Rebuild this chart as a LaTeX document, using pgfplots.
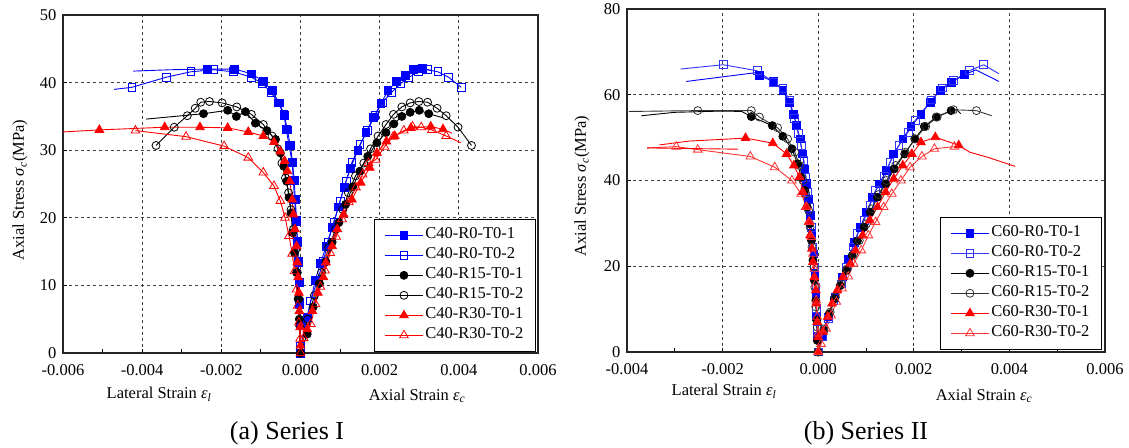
\documentclass[border=0pt]{standalone}
\usepackage{fontspec}
\setmainfont{Liberation Serif}
\usepackage{pgfplots}
\pgfplotsset{compat=1.18}
\pgfplotsset{
 mystyle/.style={
  scale only axis,
  axis line style={line width=1.3pt, black!85},
  grid=major,
  major grid style={line width=0.9pt, black!75, dash pattern=on 3pt off 3pt},
  tick align=inside,
  xtick pos=bottom, ytick pos=left,
  minor x tick num=1,
  major tick length=4pt, minor tick length=4pt,
  every tick/.style={line width=1pt, black},
  scaled x ticks=false, scaled y ticks=false,
  xticklabel style={font=\fontsize{16.5}{19}\selectfont, yshift=-8pt},
  yticklabel style={font=\fontsize{16.5}{19}\selectfont, xshift=-3pt},
  legend cell align=left,
  legend style={draw=black, line width=1.3pt, fill=white, font=\fontsize{16.5}{19}\selectfont,
    inner xsep=10pt, inner ysep=6pt, row sep=0pt,
    nodes={inner xsep=2pt, inner ysep=2.5pt, text height=11pt, text depth=4pt}},
  legend image code/.code={\draw[mark repeat=2,mark phase=2,##1] plot coordinates {(0pt,0pt) (19pt,0pt) (38pt,0pt)};},
 },
 fsq/.style={#1, line width=0.9pt, mark=square*, mark size=3.9pt, mark options={solid, fill=#1, line width=0.8pt}},
 osq/.style={#1, line width=0.9pt, mark=square, mark size=3.9pt, mark options={solid, fill=white, line width=0.8pt}},
 fci/.style={#1, line width=0.9pt, mark=*, mark size=4pt, mark options={solid, fill=#1, line width=0.8pt}},
 oci/.style={#1, line width=0.9pt, mark=o, mark size=4pt, mark options={solid, fill=white, line width=0.8pt}},
 ftr/.style={#1, line width=0.9pt, mark=triangle*, mark size=5pt, mark options={solid, fill=#1, line width=0.8pt}},
 otr/.style={#1, line width=0.9pt, mark=triangle, mark size=5pt, mark options={solid, fill=white, line width=0.8pt}},
 tl/.style={#1, line width=0.9pt, no marks, forget plot},
}
\begin{document}
\begin{tikzpicture}[x=1pt,y=1pt]
\useasboundingbox (0,0) rectangle (1129,447);
% ---------------- Series I ----------------
\begin{axis}[mystyle, at={(63pt,94pt)}, anchor=south west, width=475pt, height=338pt,
  xmin=-0.006, xmax=0.006, ymin=0, ymax=50,
  xtick={-0.006,-0.004,-0.002,0,0.002,0.004,0.006},
  xticklabels={-0.006,-0.004,-0.002,0.000,0.002,0.004,0.006},
  ytick={0,10,20,30,40,50}, yticklabels={0,10,20,30,40,50},
  legend style={at={(0.996,0.003)}, anchor=south east}]
% C40-R0-T0-1
\addplot[fsq=blue] coordinates {(-0.00235,42.0) (-0.00166,42.0) (-0.00124,41.3) (-0.00094,40.2) (-0.00072,38.8) (-0.00054,37.0) (-0.00041,35.2) (-0.00033,33.0) (-0.00026,30.7) (-0.0002,28.2) (-0.00016,25.5) (-0.00013,22.7) (-0.0001,19.6) (-0.00008,16.5) (-0.00006,13.5) (-0.00004,10.4) (-0.00002,7.2) (-0.00001,4) (0,0)
 (0.00017,5.3) (0.00037,10.7) (0.0005,13.2) (0.00065,15.8) (0.0008,18.6) (0.00096,21.6) (0.0011,24.5) (0.00126,27.3) (0.00145,30.0) (0.00165,32.6) (0.00185,34.9) (0.00203,36.9) (0.00221,38.8) (0.00243,40.2) (0.00266,41.1) (0.00286,41.9) (0.00308,42.1)};
\addplot[tl=blue] coordinates {(-0.00422,41.7) (-0.0033,41.9) (-0.00235,42.0)};
\addplot[tl=blue] coordinates {(0.00308,42.1) (0.0033,41.8)};
% C40-R0-T0-2
\addplot[osq=blue] coordinates {(-0.00426,39.3) (-0.00339,40.8) (-0.00277,41.6) (-0.0022,41.9) (-0.00169,41.6) (-0.00125,40.8) (-0.00096,39.9) (-0.00074,38.5) (-0.00056,37.0) (-0.00042,35.3) (-0.00036,33.1) (-0.00029,30.7) (-0.00021,28.2) (-0.00018,25.5) (-0.00015,22.7) (-0.0001,19.4) (-0.00008,16.4) (-0.00005,13.4) (-0.00003,10.4) (-0.00002,7.5) (-0.00001,4.5) (0,1)
 (0.00026,7.7) (0.00058,13.6) (0.00069,16.4) (0.00085,19.4) (0.001,22.5) (0.00115,25.4) (0.0013,28.2) (0.0015,30.8) (0.00169,32.9) (0.00188,35.1) (0.00206,37.0) (0.00229,38.5) (0.00252,39.8) (0.00274,40.8) (0.00297,41.6) (0.0032,41.9) (0.00347,41.6) (0.00374,40.8) (0.00406,39.3)};
\addplot[tl=blue] coordinates {(-0.00471,39.0) (-0.00426,39.3)};
% C40-R15-T0-1
\addplot[fci=black] coordinates {(-0.00245,35.4) (-0.00184,35.9) (-0.00162,35.0) (-0.00139,35.7) (-0.00114,34.0) (-0.00085,32.9) (-0.00063,31.6) (-0.00051,29.6) (-0.00042,27.6) (-0.00035,25.4) (-0.00029,23.0) (-0.00024,20.7) (-0.0002,17.8) (-0.00015,14.8) (-0.0001,11.9) (-0.00006,8.0) (-0.00003,5.0) (0,0)
 (0.00017,2.8) (0.00032,6.8) (0.00048,10.3) (0.00064,13.5) (0.0008,16.4) (0.00097,19.3) (0.00114,22.0) (0.00132,24.6) (0.0015,26.9) (0.0017,29.1) (0.00193,31.1) (0.00216,32.6) (0.00236,33.9) (0.00256,35.0) (0.00277,35.6) (0.003,35.9) (0.00324,35.4)};
\addplot[tl=black] coordinates {(-0.0039,34.6) (-0.00245,35.4)};
\addplot[tl=black] coordinates {(0.00324,35.4) (0.0036,34.8)};
% C40-R15-T0-2
\addplot[oci=black] coordinates {(-0.00365,30.7) (-0.00319,33.4) (-0.00286,35.1) (-0.00266,36.2) (-0.00252,37.1) (-0.0023,37.2) (-0.00198,37.0) (-0.00161,36.4) (-0.00124,35.3) (-0.00094,33.8) (-0.00072,32.1) (-0.00057,30.2) (-0.00047,28.1) (-0.00038,25.9) (-0.0003,23.7) (-0.00024,21.2) (-0.00018,18.3) (-0.00012,15.3) (-0.00008,11.9) (-0.00004,8.0) (-0.00002,4) (0,0)
 (0.00018,5.0) (0.00035,8.5) (0.00053,11.9) (0.00071,15.6) (0.00089,18.3) (0.00107,21.2) (0.00121,23.7) (0.00139,26.2) (0.0016,28.1) (0.00177,30.2) (0.00196,32.1) (0.00216,33.8) (0.00235,35.3) (0.00256,36.4) (0.00277,37.0) (0.00299,37.2) (0.00321,37.1) (0.00345,36.2) (0.00368,35.1) (0.00398,33.4) (0.00432,30.7)};
% C40-R30-T0-1
\addplot[ftr=red] coordinates {(-0.00508,33.0) (-0.00343,33.4) (-0.00254,33.4) (-0.00184,33.3) (-0.00132,32.7) (-0.00094,32.1) (-0.00067,31.2) (-0.00051,29.8) (-0.0004,28.4) (-0.00033,26.9) (-0.00027,25.4) (-0.00021,22.7) (-0.00018,20.5) (-0.00014,18.3) (-0.0001,15.8) (-0.00008,13.4) (-0.00006,11.2) (-0.00004,8.9) (-0.00003,6.2) (-0.00001,3.8) (0,1.1)
 (0.00017,3.5) (0.0003,6.2) (0.00044,8.9) (0.00058,11.2) (0.00064,13.4) (0.0008,15.8) (0.00093,18.3) (0.00109,20.5) (0.0013,22.7) (0.00152,25.2) (0.00175,27.4) (0.00193,29.6) (0.00217,31.3) (0.00238,32.1) (0.00279,33.3) (0.00329,33.5) (0.0036,33.1)};
\addplot[tl=red] coordinates {(-0.006,32.7) (-0.00508,33.0)};
\addplot[tl=red] coordinates {(0.0036,33.1) (0.00383,32.5)};
% C40-R30-T0-2
\addplot[otr=red] coordinates {(-0.00417,32.9) (-0.00289,32.0) (-0.00193,30.6) (-0.00132,28.9) (-0.00094,26.7) (-0.00067,24.7) (-0.00051,22.5) (-0.00039,20.0) (-0.00029,17.3) (-0.00021,14.7) (-0.00015,12.1) (-0.0001,9.4) (-0.00007,7.0) (-0.00004,4.5) (-0.00001,2.1) (0,0)
 (0.00008,2.2) (0.00026,4.3) (0.00038,7.2) (0.0005,9.8) (0.00062,12.2) (0.00075,14.8) (0.0009,17.2) (0.00105,19.8) (0.00122,22.3) (0.0014,24.5) (0.00157,26.4) (0.00172,28.1) (0.0019,28.6) (0.00212,30.5) (0.00234,32.0) (0.00261,32.9) (0.00283,33.5) (0.00305,33.4) (0.00332,33.0) (0.00368,32.1)};
\addplot[tl=red] coordinates {(0.00368,32.1) (0.00405,31.1)};
\legend{C40-R0-T0-1,C40-R0-T0-2,C40-R15-T0-1,C40-R15-T0-2,C40-R30-T0-1,C40-R30-T0-2}
\end{axis}
% ---------------- Series II ----------------
\begin{axis}[mystyle, at={(627pt,95pt)}, anchor=south west, width=478pt, height=343pt,
  xmin=-0.004, xmax=0.006, ymin=0, ymax=80,
  xtick={-0.004,-0.002,0,0.002,0.004,0.006},
  xticklabels={-0.004,-0.002,0.000,0.002,0.004,0.006},
  ytick={0,20,40,60,80}, yticklabels={0,20,40,60,80},
  legend style={at={(0.994,0.006)}, anchor=south east}]
% C60-R0-T0-1
\addplot[fsq=blue] coordinates {(-0.00123,64.5) (-0.00094,63.1) (-0.00074,61.0) (-0.00061,58.3) (-0.00052,55.5) (-0.00045,52.8) (-0.00038,49.7) (-0.00033,46.2) (-0.00028,42.7) (-0.00024,39.4) (-0.0002,35.7) (-0.00017,31.8) (-0.00013,27.6) (-0.00009,22.9) (-0.00007,18.3) (-0.00005,13.6) (-0.00003,8.2) (-0.00002,3.5) (0,0)
 (0.0001,3.5) (0.00021,8.2) (0.00035,12.8) (0.0005,17.5) (0.00063,21.7) (0.00076,25.6) (0.00088,29.1) (0.00101,32.6) (0.00114,36.1) (0.00127,39.2) (0.00143,42.3) (0.00158,46.2) (0.00177,49.7) (0.00194,52.6) (0.00215,55.4) (0.00234,58.3) (0.00255,61.0) (0.00279,62.9) (0.00306,64.7)};
\addplot[tl=blue] coordinates {(-0.00276,63.1) (-0.00127,65.2) (-0.00123,64.5)};
\addplot[tl=blue] coordinates {(0.00306,64.7) (0.0033,65.8) (0.00378,63.1)};
% C60-R0-T0-2
\addplot[osq=blue!80!white] coordinates {(-0.00199,67.0) (-0.00128,65.6) (-0.00093,62.9) (-0.00074,61.4) (-0.0006,58.8) (-0.00049,54.4) (-0.00042,51.0) (-0.00036,48.2) (-0.0003,44.7) (-0.00026,40.8) (-0.00022,37.3) (-0.00018,33.8) (-0.00014,29.1) (-0.00011,24.5) (-0.00008,19.8) (-0.00005,15.1) (-0.00003,10.1) (-0.00002,5.4) (0,0)
 (0.0001,3.5) (0.00021,7.8) (0.00033,12.0) (0.00048,15.9) (0.00059,19.8) (0.00073,24.5) (0.00082,27.6) (0.00096,30.7) (0.00108,34.2) (0.0012,37.7) (0.00139,40.9) (0.0015,44.3) (0.00169,48.2) (0.00188,51.3) (0.00203,54.0) (0.00237,58.8) (0.0026,61.6) (0.00283,63.3) (0.00316,65.6) (0.00346,67.0)};
\addplot[tl=blue!80!white] coordinates {(-0.00288,66.0) (-0.00199,67.0)};
\addplot[tl=blue!80!white] coordinates {(0.00346,67.0) (0.00378,64.9)};
% C60-R15-T0-1
\addplot[fci=black] coordinates {(-0.0014,54.9) (-0.00096,52.8) (-0.00074,50.3) (-0.00055,47.4) (-0.00043,43.9) (-0.00036,40.8) (-0.00028,37.7) (-0.00023,33.8) (-0.00018,29.9) (-0.00014,26.0) (-0.00011,21.4) (-0.00008,16.7) (-0.00005,12.0) (-0.00003,7.4) (-0.00002,2.7) (0,0)
 (0.00012,5.0) (0.00023,8.9) (0.00034,12.4) (0.00046,15.5) (0.00059,19.0) (0.00071,22.5) (0.00082,25.9) (0.00096,29.1) (0.00109,32.6) (0.00124,36.1) (0.00141,39.2) (0.00159,42.7) (0.00181,46.2) (0.00202,49.7) (0.00222,52.6) (0.00247,54.8) (0.00278,56.3)};
\addplot[tl=black] coordinates {(-0.0037,55.1) (-0.003,55.9) (-0.002,56.2) (-0.0016,56.1) (-0.0014,54.9)};
\addplot[tl=black] coordinates {(0.00278,56.3) (0.0029,56.5) (0.00298,55.6)};
% C60-R15-T0-2
\addplot[oci=black!80] coordinates {(-0.00252,56.3) (-0.0014,56.3) (-0.00123,54.8) (-0.00085,52.3) (-0.00064,49.7) (-0.00049,46.6) (-0.00039,43.5) (-0.00032,40.0) (-0.00026,36.9) (-0.0002,33.0) (-0.00017,29.1) (-0.00013,24.5) (-0.00009,19.8) (-0.00007,15.1) (-0.00005,10.5) (-0.00002,5.8) (0,0)
 (0.00012,5.4) (0.00025,9.3) (0.00036,12.8) (0.00048,15.9) (0.00061,19.4) (0.00074,22.8) (0.00086,26.0) (0.00101,29.9) (0.00112,33.4) (0.00126,36.7) (0.00143,40.0) (0.00162,43.5) (0.00182,46.6) (0.00203,49.7) (0.00225,52.6) (0.00249,54.8) (0.00283,56.5) (0.00331,56.3)};
\addplot[tl=black!80] coordinates {(-0.00396,56.1) (-0.00252,56.3)};
\addplot[tl=black!80] coordinates {(0.00331,56.3) (0.00363,55.1)};
% C60-R30-T0-1
\addplot[ftr=red] coordinates {(-0.00152,49.9) (-0.00095,48.7) (-0.00066,46.2) (-0.00051,43.5) (-0.00039,40.8) (-0.00032,37.3) (-0.00026,33.8) (-0.0002,30.3) (-0.00017,27.2) (-0.00013,24.1) (-0.00011,21.0) (-0.00008,17.5) (-0.00005,14.4) (-0.00004,11.3) (-0.00002,7.0) (0,3.5) (0,0)
 (0.0001,4.7) (0.0002,8.2) (0.00029,11.3) (0.0004,14.4) (0.00052,17.5) (0.00067,20.6) (0.00078,23.7) (0.00093,27.2) (0.00108,30.7) (0.00124,33.8) (0.00141,37.3) (0.00158,40.4) (0.00177,43.5) (0.00196,46.2) (0.00215,48.9) (0.00245,50.1) (0.00294,48.2)};
\addplot[tl=red] coordinates {(-0.00332,48.3) (-0.0027,49.2) (-0.002,49.6) (-0.00152,49.9)};
\addplot[tl=red] coordinates {(0.00294,48.2) (0.00317,46.6) (0.00355,45.4) (0.00412,43.3)};
% C60-R30-T0-2
\addplot[otr=red!80!white] coordinates {(-0.00297,47.9) (-0.00252,47.2) (-0.00142,45.6) (-0.00091,43.1) (-0.00055,40.0) (-0.00036,36.9) (-0.00024,33.8) (-0.00018,30.3) (-0.00014,26.8) (-0.00011,22.9) (-0.00008,19.4) (-0.00005,15.9) (-0.00004,12.0) (-0.00002,8.2) (0,4.3) (0,0)
 (0.00006,1.9) (0.00017,5.4) (0.00027,8.5) (0.00038,11.7) (0.0005,14.8) (0.00063,17.6) (0.00074,20.6) (0.0009,23.7) (0.00105,27.2) (0.0012,30.3) (0.00137,33.8) (0.00154,36.9) (0.00173,40.0) (0.00192,43.1) (0.00217,45.6) (0.00243,47.4) (0.00285,47.9)};
\addplot[tl=red!80!white] coordinates {(-0.00358,47.6) (-0.00297,47.9)};
\addplot[tl=red] coordinates {(-0.00358,47.6) (-0.00168,47.3)};
\addplot[tl=red!80!white] coordinates {(0.00285,47.9) (0.00294,47.8)};
\legend{C60-R0-T0-1,C60-R0-T0-2,C60-R15-T0-1,C60-R15-T0-2,C60-R30-T0-1,C60-R30-T0-2}
\end{axis}
% ---------------- labels ----------------
\node[font=\fontsize{16.5}{19}\selectfont] at (159,53) {Lateral Strain \textit{ε}\textsubscript{\textit{l}}};
\node[font=\fontsize{16.5}{19}\selectfont] at (417,51) {Axial Strain \textit{ε}\textsubscript{\textit{c}}};
\node[font=\fontsize{16.5}{19}\selectfont] at (724,56) {Lateral Strain \textit{ε}\textsubscript{\textit{l}}};
\node[font=\fontsize{16.5}{19}\selectfont] at (984,51) {Axial Strain \textit{ε}\textsubscript{\textit{c}}};
\node[rotate=90, font=\fontsize{16.5}{19}\selectfont] at (20,257) {Axial Stress \textit{σ}\textsubscript{\textit{c}}(MPa)};
\node[rotate=90, font=\fontsize{16.5}{19}\selectfont] at (582,261) {Axial Stress \textit{σ}\textsubscript{\textit{c}}(MPa)};
\node[font=\fontsize{26}{31}\selectfont] at (287,14) {(a) Series I};
\node[font=\fontsize{26}{31}\selectfont] at (866,14) {(b) Series II};
\end{tikzpicture}
\end{document}
